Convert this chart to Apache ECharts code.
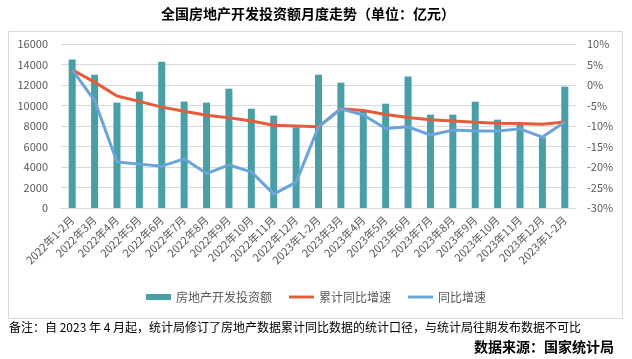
<!DOCTYPE html>
<html><head><meta charset="utf-8">
<script src="https://cdn.jsdelivr.net/npm/echarts@6/dist/echarts.min.js"></script>
<style>html,body{margin:0;padding:0;background:#fff}#c{width:632px;height:359px}</style>
</head><body><div id="c"></div>
<script>
const categories = ['2022年1-2月','2022年3月','2022年4月','2022年5月','2022年6月','2022年7月','2022年8月','2022年9月','2022年10月','2022年11月','2022年12月','2023年1-2月','2023年3月','2023年4月','2023年5月','2023年6月','2023年7月','2023年8月','2023年9月','2023年10月','2023年11月','2023年12月','2023年1-2月'];
const investment = [14499,13010,10280,11350,14280,10380,10280,11640,9690,9010,7870,13010,12230,9450,10180,12820,9110,9110,10370,8620,8130,6890,11840];
const cumulativeYoY = [3.7,0.7,-2.7,-4.0,-5.4,-6.4,-7.4,-8.0,-8.8,-9.8,-10.0,-10.2,-5.8,-6.2,-7.2,-7.9,-8.5,-8.8,-9.1,-9.3,-9.4,-9.6,-9.0];
const monthlyYoY = [3.7,-3.8,-18.8,-19.3,-19.8,-18.0,-21.6,-19.5,-21.2,-26.6,-23.7,-10.2,-5.8,-7.3,-10.6,-10.2,-12.2,-11.0,-11.2,-11.2,-10.7,-12.7,-9.0];
const leftTicks = {min:0,max:16000,interval:2000};
const rightTicks = {min:-30,max:10,interval:5};
const seriesNames = ['房地产开发投资额','累计同比增速','同比增速'];
const titleText = '全国房地产开发投资额月度走势（单位：亿元）';
const noteText = '备注：自 2023 年 4 月起，统计局修订了房地产数据累计同比数据的统计口径，与统计局往期发布数据不可比';
const sourceText = '数据来源：国家统计局';

const FONT = '"Noto Sans CJK SC", "Noto Sans", sans-serif';
const LINE_ICON = 'path://M0,0L26,0L26,3L0,3Z';
const chart = echarts.init(document.getElementById('c'), null, {renderer:'canvas'});
chart.setOption({
  animation:false,
  textStyle:{fontFamily:FONT},
  graphic:[
    {type:'rect', shape:{x:8.5,y:31.5,width:614,height:287}, style:{fill:'none',stroke:'#d9d9d9',lineWidth:1}, z:-1},
    {type:'text', left:161, top:7, style:{text:titleText, font:'bold 14px '+FONT, fill:'#000'}},
    {type:'text', left:9, top:321, style:{text:noteText, font:'12px '+FONT, fill:'#000'}},
    {type:'text', right:18, top:340, style:{text:sourceText, font:'bold 14px '+FONT, fill:'#000'}}
  ],
  grid:{left:61,right:56,top:44,bottom:151,containLabel:false},
  legend:{
    data:[
      {name:seriesNames[0], icon:'rect'},
      {name:seriesNames[1], icon:LINE_ICON},
      {name:seriesNames[2], icon:LINE_ICON}
    ],
    left:'center', top:286, itemWidth:25, itemHeight:6, itemGap:17,
    textStyle:{color:'#595959',fontSize:12,fontFamily:FONT}
  },
  xAxis:{
    type:'category', data:categories,
    axisLine:{lineStyle:{color:'#d9d9d9'}}, axisTick:{show:false},
    axisLabel:{rotate:45, interval:0, color:'#595959', fontSize:11, margin:10, fontFamily:FONT}
  },
  yAxis:[
    {type:'value', min:leftTicks.min, max:leftTicks.max, interval:leftTicks.interval,
     axisLabel:{color:'#595959', fontSize:11, margin:13, fontFamily:FONT, formatter:function(v){return String(v);}},
     splitLine:{lineStyle:{color:'#d9d9d9'}}, axisLine:{show:false}, axisTick:{show:false}},
    {type:'value', min:rightTicks.min, max:rightTicks.max, interval:rightTicks.interval,
     axisLabel:{color:'#595959', fontSize:11, margin:11, formatter:'{value}%', fontFamily:FONT},
     splitLine:{show:false}, axisLine:{show:false}, axisTick:{show:false}}
  ],
  series:[
    {name:seriesNames[0], type:'bar', data:investment, barWidth:7, itemStyle:{color:'#46a0a5'}, z:1},
    {name:seriesNames[1], type:'line', yAxisIndex:1, data:cumulativeYoY, symbol:'none', smooth:false,
     lineStyle:{color:'#e35c3b', width:3}, itemStyle:{color:'#e35c3b'}, z:3},
    {name:seriesNames[2], type:'line', yAxisIndex:1, data:monthlyYoY, symbol:'none',
     lineStyle:{color:'#6ca3d9', width:3}, itemStyle:{color:'#6ca3d9'}, z:4}
  ]
});
</script></body></html>
